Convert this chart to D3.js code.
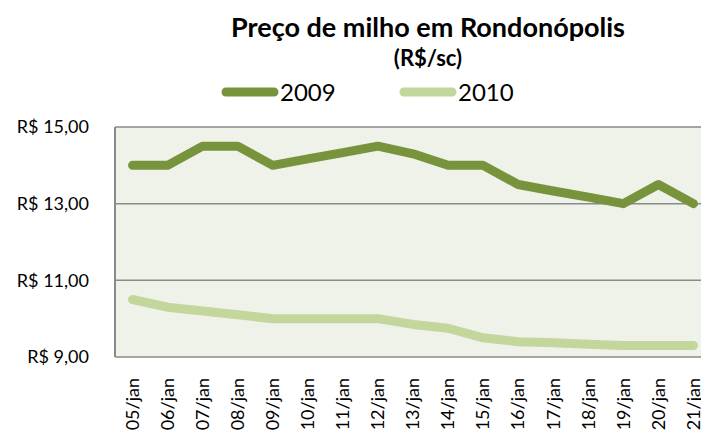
<!DOCTYPE html>
<html>
<head>
<meta charset="utf-8">
<script src="https://cdn.jsdelivr.net/npm/d3@7"></script>
<style>
  body { margin: 0; background: #fff; }
  text { font-family: Lato, "Open Sans", sans-serif; fill: #000; }
</style>
</head>
<body>
<div id="chart"></div>
<script>
// data
let days = ["05/jan", "06/jan", "07/jan", "08/jan", "09/jan", "10/jan", "11/jan", "12/jan", "13/jan",
    "14/jan", "15/jan", "16/jan", "17/jan", "18/jan", "19/jan", "20/jan", "21/jan"];
let price2009 = [14.0, 14.0, 14.5, 14.5, 14.0, 14.17, 14.33, 14.5, 14.3, 14.0, 14.0, 13.5, 13.33, 13.17, 13.0, 13.5, 13.0];
let price2010 = [10.5, 10.3, 10.2, 10.1, 10.0, 10.0, 10.0, 10.0, 9.85, 9.75, 9.5, 9.4, 9.37, 9.33, 9.3, 9.3, 9.3];
let yTicks = [9, 11, 13, 15];
let seriesNames = ["2009", "2010"];

//set canvas and margins
let svgWidth = 701;
let svgHeight = 436;

let margin = { top: 127, left: 115 };
let width = 596;
let height = 230;

let colors = ["#77933c", "#c3d69b"];

let svg = d3.select("#chart")
    .append("svg")
    .attr("width", svgWidth)
    .attr("height", svgHeight);

let chartGroup = svg.append("g")
    .attr("transform", `translate(${margin.left}, ${margin.top})`);

//scales
let xScale = d3.scaleBand()
    .domain(days)
    .range([0, width]);

let yScale = d3.scaleLinear()
    .domain([9, 15])
    .range([height, 0]);

//plot background
chartGroup.append("rect")
    .attr("width", width)
    .attr("height", height)
    .attr("fill", "#eef2e8");

//gridlines
chartGroup.selectAll(".grid")
    .data(yTicks)
    .join("line")
    .attr("x1", 0)
    .attr("x2", width)
    .attr("y1", d => yScale(d))
    .attr("y2", d => yScale(d))
    .attr("stroke", "#8a8a8a")
    .attr("stroke-width", 1.5);

//left border
chartGroup.append("line")
    .attr("x1", 0).attr("x2", 0)
    .attr("y1", 0).attr("y2", height)
    .attr("stroke", "#8a8a8a")
    .attr("stroke-width", 2);

//y axis labels
let leftAxis = d3.axisLeft(yScale)
    .tickValues(yTicks)
    .tickSize(0)
    .tickPadding(26)
    .tickFormat(d => "R$ " + d3.format(".2f")(d).replace(".", ","));

chartGroup.append("g")
    .call(leftAxis)
    .call(g => g.select(".domain").remove())
    .selectAll("text")
    .attr("font-size", 18)
    .attr("font-family", "Lato, sans-serif");

//x axis labels
let bottomAxis = d3.axisBottom(xScale).tickSize(0);

chartGroup.append("g")
    .attr("transform", `translate(0, ${height})`)
    .call(bottomAxis)
    .call(g => g.select(".domain").remove())
    .selectAll("text")
    .attr("font-size", 18)
    .attr("font-family", "Lato, sans-serif")
    .attr("text-anchor", "end")
    .attr("transform", "rotate(-90)")
    .attr("x", -21)
    .attr("y", 0)
    .attr("dy", "0.35em");

//lines
let line = d3.line()
    .x((d, i) => xScale(days[i]) + xScale.bandwidth() / 2)
    .y(d => yScale(d));

[price2009, price2010].forEach((s, i) => {
    chartGroup.append("path")
        .datum(s)
        .attr("d", line)
        .attr("fill", "none")
        .attr("stroke", colors[i])
        .attr("stroke-width", 9)
        .attr("stroke-linecap", "round")
        .attr("stroke-linejoin", "round");
});

//title
svg.append("text")
    .attr("x", 428)
    .attr("y", 37)
    .attr("text-anchor", "middle")
    .attr("font-size", 27)
    .attr("font-weight", "bold")
    .text("Preço de milho em Rondonópolis");

svg.append("text")
    .attr("x", 428)
    .attr("y", 66)
    .attr("text-anchor", "middle")
    .attr("font-size", 22)
    .attr("font-weight", "bold")
    .text("(R$/sc)");

//legend
let legendX = [222, 400];
seriesNames.forEach((name, i) => {
    svg.append("line")
        .attr("x1", legendX[i] + 4)
        .attr("x2", legendX[i] + 52)
        .attr("y1", 92)
        .attr("y2", 92)
        .attr("stroke", colors[i])
        .attr("stroke-width", 9)
        .attr("stroke-linecap", "round");
    svg.append("text")
        .attr("x", legendX[i] + 58)
        .attr("y", 101)
        .attr("font-size", 24)
        .text(name);
});
</script>
</body>
</html>
